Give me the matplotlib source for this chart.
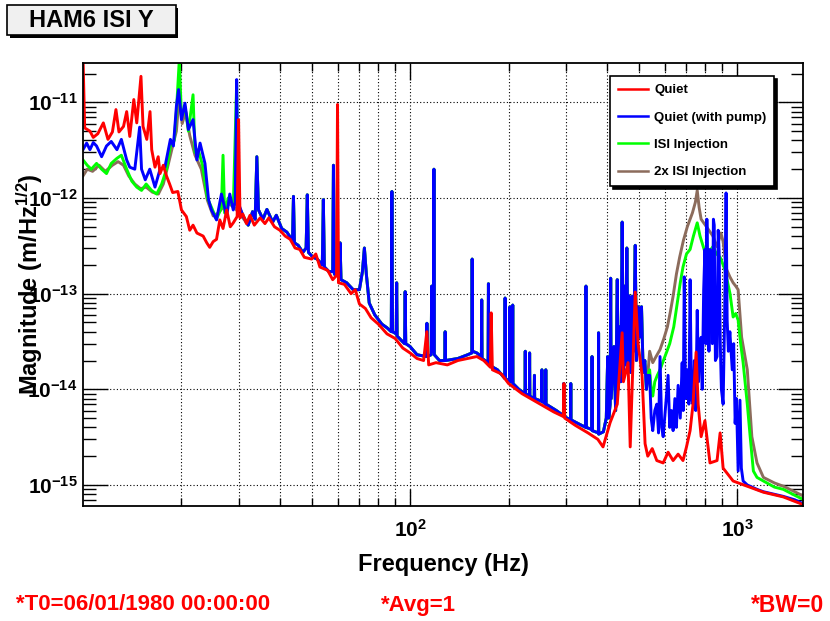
import numpy as np
import matplotlib
matplotlib.use("Agg")
import matplotlib.pyplot as plt
from matplotlib.patches import Rectangle
from matplotlib.lines import Line2D
from matplotlib.ticker import FixedLocator, LogLocator, LogFormatterMathtext, NullFormatter

# --- fonts (ROOT-like bold helvetica) ---
plt.rcParams['font.family'] = ['Liberation Sans', 'DejaVu Sans']
plt.rcParams['font.weight'] = 'bold'
plt.rcParams['mathtext.fontset'] = 'custom'
plt.rcParams['mathtext.rm'] = 'Liberation Sans:bold'
plt.rcParams['mathtext.bf'] = 'Liberation Sans:bold'
plt.rcParams['mathtext.it'] = 'Liberation Sans:bold'
plt.rcParams['mathtext.default'] = 'bf'

# --- data: (frequency Hz, magnitude m/rtHz) ---
# Quiet (red)
quiet_low = [(10.0, 3.0e-11), (10.12, 5.4e-12), (10.5, 5.0e-12), (10.75, 4.3e-12), (11.1, 4.7e-12),
             (11.54, 6.1e-12), (11.92, 4.1e-12), (12.3, 4.9e-12), (12.61, 8.4e-12), (12.88, 4.9e-12),
             (13.3, 5.6e-12), (13.6, 8.0e-12), (13.9, 4.4e-12), (14.3, 1.07e-11), (14.6, 6.1e-12),
             (15.04, 1.87e-11), (15.26, 5.6e-12), (15.67, 4.1e-12), (16.03, 8.0e-12), (16.22, 3.2e-12),
             (16.6, 2.1e-12), (16.98, 2.7e-12), (17.2, 1.8e-12), (17.6, 2.2e-12), (18.0, 1.7e-12),
             (18.4, 1.4e-12), (18.8, 1.14e-12), (19.5, 1.17e-12), (20.0, 7.5e-13), (20.7, 6.4e-13),
             (21.2, 4.6e-13), (21.7, 5.2e-13), (22.3, 4.3e-13), (23.3, 4.0e-13), (23.9, 3.4e-13),
             (24.4, 3.05e-13), (25.0, 3.5e-13), (25.6, 3.7e-13), (26.2, 5.9e-13), (26.8, 4.8e-13),
             (27.5, 7.5e-13), (28.2, 5.0e-13), (28.8, 5.5e-13), (29.6, 6.4e-13), (29.9, 6.6e-12),
             (30.2, 6.2e-13), (30.8, 6.8e-13)]
quiet_mid = [(31.6, 5.4e-13), (32.4, 6.6e-13), (33.4, 5.2e-13), (34.8, 6.2e-13), (36.0, 5.4e-13),
             (37.0, 6.2e-13), (38.5, 5.0e-13), (40.0, 4.6e-13), (41.5, 4.0e-13), (43.0, 3.7e-13),
             (44.5, 3.0e-13), (46.0, 2.9e-13), (47.5, 2.4e-13), (50.0, 2.3e-13), (51.5, 2.6e-13),
             (53.0, 1.9e-13), (56.0, 1.75e-13), (58.0, 1.4e-13), (59.6, 1.55e-13), (60.0, 9.5e-12),
             (60.4, 1.3e-13), (63.0, 1.25e-13), (66.0, 1.0e-13), (68.0, 1.1e-13), (70.0, 7.8e-14),
             (73.0, 7.0e-14), (76.0, 5.6e-14), (80.0, 4.8e-14), (85.0, 3.8e-14), (90.0, 3.4e-14),
             (95.0, 2.7e-14), (100.0, 2.4e-14), (105.0, 2.1e-14), (110.0, 2.0e-14), (112.5, 4.0e-14),
             (114.0, 1.8e-14), (120.0, 1.9e-14), (130.0, 1.8e-14), (140.0, 2.0e-14), (150.0, 2.1e-14),
             (160.0, 2.2e-14), (168.0, 2.0e-14), (176.0, 1.7e-14), (177.0, 6.3e-14), (178.5, 1.6e-14),
             (190.0, 1.45e-14), (200.0, 1.15e-14), (220.0, 9.0e-15), (250.0, 7.0e-15), (275.0, 5.8e-15),
             (294.0, 5.2e-15), (295.5, 1.15e-14), (297.0, 5.0e-15), (320.0, 4.2e-15), (350.0, 3.5e-15),
             (375.0, 3.0e-15), (389.0, 2.5e-15)]
quiet_high = [(409, 4.5e-15), (430, 7.0e-15), (445, 3.9e-14), (449, 1.2e-14), (464, 1.9e-14),
              (471, 2.5e-15), (488, 1.04e-13), (498, 3.0e-14), (512, 1.4e-14), (523, 2.7e-15),
              (533, 2.0e-15), (550, 2.4e-15), (568, 1.8e-15), (594, 1.7e-15), (615, 2.2e-15),
              (637, 1.8e-15), (660, 2.1e-15), (683, 1.8e-15), (700, 2.5e-15), (718, 3.7e-15),
              (733, 7.0e-15), (749, 2.45e-14), (760, 7.0e-15), (776, 3.2e-15), (797, 4.7e-15),
              (826, 1.7e-15), (868, 1.8e-15), (887, 3.5e-15), (906, 1.5e-15), (972, 1.1e-15),
              (1074, 9.7e-16), (1203, 8.4e-16), (1384, 7.5e-16), (1560, 6.4e-16), (1600, 6.0e-16)]

# Quiet (with pump) (blue), low-frequency part
pump_low = [(10.0, 3.2e-12), (10.26, 3.75e-12), (10.5, 3.2e-12), (10.75, 3.8e-12), (11.0, 3.5e-12),
            (11.4, 2.7e-12), (11.8, 3.5e-12), (12.2, 3.9e-12), (12.7, 3.2e-12), (13.1, 4.1e-12),
            (13.6, 2.5e-12), (13.9, 2.1e-12), (14.4, 2.0e-12), (14.9, 5.5e-12), (15.1, 2.0e-12),
            (15.5, 1.55e-12), (16.0, 2.0e-12), (16.6, 1.3e-12), (17.2, 2.0e-12), (17.8, 2.1e-12),
            (18.5, 4.1e-12), (18.9, 3.5e-12), (19.3, 9.1e-12), (19.6, 1.36e-11), (20.0, 6.6e-12),
            (20.5, 9.8e-12), (21.0, 5.2e-12), (21.7, 6.6e-12), (22.3, 2.5e-12), (22.8, 3.75e-12),
            (23.6, 2.3e-12), (24.2, 9.6e-13), (24.7, 7.5e-13), (25.6, 5.9e-13), (26.5, 1.1e-12),
            (27.5, 6.4e-13), (28.1, 1.1e-12), (28.8, 7.5e-13), (29.2, 9.0e-13), (29.5, 1.73e-11),
            (29.8, 9.0e-13), (30.9, 6.4e-13)]

# 32-535 Hz: pump, ISI injection and 2x injection lie on top of each other
shared_mid = [(32.0, 5.2e-13), (33.0, 7.2e-13), (33.6, 6.0e-13), (34.0, 2.7e-12), (34.4, 7.5e-13),
              (35.5, 6.0e-13), (36.5, 7.6e-13), (38.0, 5.6e-13), (39.0, 6.6e-13), (40.5, 4.8e-13),
              (42.0, 4.4e-13), (43.7, 3.6e-13), (44.0, 1.04e-12), (44.3, 3.4e-13), (45.5, 3.2e-13),
              (47.0, 2.7e-13), (48.1, 3.0e-13), (48.5, 1.08e-12), (48.9, 2.7e-13), (50.5, 2.4e-13),
              (52.0, 2.3e-13), (53.9, 2.0e-13), (54.3, 9.6e-13), (54.7, 1.9e-13), (56.5, 1.7e-13),
              (58.0, 1.7e-13), (58.3, 2.2e-12), (58.7, 1.6e-13), (60.8, 1.5e-13), (61.1, 3.4e-13),
              (61.5, 1.4e-13), (64.0, 1.3e-13), (67.0, 1.1e-13), (70.0, 1.1e-13), (71.5, 1.7e-13),
              (72.5, 3.0e-13), (73.5, 1.6e-13), (75.0, 8.0e-14), (78.0, 6.0e-14), (82.0, 4.8e-14),
              (85.0, 4.4e-14), (87.6, 4.0e-14), (88.0, 1.17e-12), (88.4, 4.0e-14), (90.7, 3.8e-14),
              (91.0, 1.3e-13), (91.3, 3.6e-14), (96.2, 3.0e-14), (96.6, 1.05e-13), (97.0, 3.0e-14),
              (100.0, 2.8e-14), (105.0, 2.3e-14), (112.2, 2.2e-14), (112.6, 4.9e-14), (113.0, 2.2e-14),
              (116.0, 2.3e-14), (116.4, 1.2e-13), (116.8, 2.5e-14), (118.0, 2.5e-14), (118.3, 2.0e-12),
              (118.6, 2.3e-14), (123.0, 2.0e-14), (127.6, 2.0e-14), (128.0, 4.0e-14), (128.4, 2.0e-14),
              (140.0, 2.1e-14), (150.0, 2.3e-14), (154.4, 2.4e-14), (154.8, 2.3e-13), (155.2, 2.5e-14),
              (160.0, 2.4e-14), (165.2, 2.2e-14), (165.6, 8.6e-14), (166.0, 2.1e-14), (173.2, 1.9e-14),
              (173.6, 1.27e-13), (174.0, 1.8e-14), (185.0, 1.6e-14), (194.8, 1.3e-14), (195.2, 9.0e-14),
              (195.6, 1.3e-14), (201.6, 1.2e-14), (202.0, 7.3e-14), (202.4, 1.2e-14), (205.6, 1.2e-14),
              (206.0, 7.6e-14), (206.4, 1.15e-14), (215.0, 1.0e-14), (224.6, 9.0e-15), (225.0, 2.5e-14),
              (225.4, 9.0e-15), (231.6, 8.5e-15), (232.0, 2.4e-14), (232.4, 8.5e-15), (239.6, 8.0e-15),
              (240.0, 1.4e-14), (240.4, 8.0e-15), (252.6, 7.5e-15), (253.0, 1.6e-14), (253.4, 7.5e-15),
              (259.6, 7.0e-15), (260.0, 1.6e-14), (260.4, 7.0e-15), (280.0, 6.0e-15), (294.6, 5.3e-15),
              (295.0, 1.15e-14), (295.4, 5.2e-15), (309.6, 4.8e-15), (310.0, 1.15e-14), (310.4, 4.8e-15),
              (330.0, 4.3e-15), (344.6, 4.0e-15), (345.0, 1.2e-13), (345.4, 4.0e-15), (359.6, 3.8e-15),
              (360.0, 2.2e-14), (360.4, 3.7e-15), (376.6, 3.5e-15), (377.0, 3.9e-14), (377.4, 3.4e-15),
              (390.0, 3.6e-15), (398.0, 5.0e-15), (402.0, 2.2e-14), (405.0, 5.0e-15), (409.0, 7.0e-15),
              (410.5, 1.45e-13), (412.0, 8.0e-15), (420.0, 2.8e-14), (425.0, 6.0e-15), (430.0, 1.4e-13),
              (433.0, 1.0e-14), (437.0, 4.5e-14), (441.0, 1.2e-14), (445.0, 5.6e-13), (449.0, 1.5e-14),
              (452.0, 1.2e-13), (456.0, 1.8e-14), (460.0, 3.0e-13), (464.0, 2.0e-14), (467.0, 9.5e-14),
              (472.0, 1.5e-14), (478.0, 9.4e-14), (482.0, 2.5e-14), (488.0, 3.2e-13), (492.0, 2.0e-14),
              (498.0, 7.3e-14), (503.0, 3.5e-14), (510.0, 7.3e-14), (516.0, 1.5e-14), (522.0, 2.0e-14),
              (528.0, 1.0e-14), (533.0, 1.4e-14)]

pump_high = [(540, 1.4e-14), (546, 5.0e-15), (552, 3.7e-15), (560, 6.0e-15), (568, 7.0e-15),
             (575, 3.5e-15), (581, 2.2e-14), (588, 4.0e-15), (594, 3.2e-15), (603, 6.0e-15),
             (615, 1.4e-14), (622, 4.0e-15), (630, 6.0e-15), (637, 3.7e-15), (645, 8.0e-15),
             (652, 4.0e-15), (660, 1.1e-14), (670, 5.0e-15), (679, 1.9e-14), (684, 6.0e-15),
             (689, 1.5e-13), (695, 8.0e-15), (704, 1.6e-14), (712, 7.0e-15), (718, 1.4e-13),
             (725, 8.0e-15), (733, 7.0e-15), (740, 2.0e-14), (747, 6.0e-15), (755, 6.7e-14),
             (762, 1.2e-14), (770, 3.0e-14), (776, 3.5e-14), (782, 1.0e-14), (790, 1.1e-13),
             (797, 2.9e-13), (803, 3.0e-14), (808, 6.0e-13), (815, 9.4e-14), (820, 2.5e-14),
             (826, 2.9e-13), (833, 1.5e-13), (840, 3.0e-14), (846, 6.0e-13), (851, 5.2e-13),
             (858, 2.0e-14), (868, 2.2e-14), (875, 4.6e-13), (881, 2.7e-13), (888, 3.0e-14),
             (895, 1.0e-14), (906, 7.0e-15), (915, 5.0e-14), (925, 1.13e-12), (932, 5.3e-14),
             (940, 2.5e-14), (950, 4.0e-14), (966, 1.6e-14), (976, 3.0e-14), (986, 4.4e-15),
             (995, 8.0e-15), (1007, 1.4e-15), (1020, 7.7e-15), (1030, 1.5e-15), (1043, 1.1e-15),
             (1074, 1.0e-15), (1150, 9.0e-16), (1203, 8.5e-16), (1300, 8.0e-16), (1384, 7.6e-16),
             (1500, 7.0e-16), (1600, 6.3e-16)]

# ISI Injection (green)
inj_low = [(10.0, 2.5e-12), (10.3, 2.2e-12), (10.6, 2.0e-12), (11.0, 2.3e-12), (11.4, 2.0e-12),
           (11.8, 1.8e-12), (12.2, 2.3e-12), (12.7, 2.6e-12), (13.1, 2.8e-12), (13.6, 2.0e-12),
           (14.1, 1.5e-12), (14.6, 1.3e-12), (15.1, 1.2e-12), (15.6, 1.4e-12), (16.2, 1.2e-12),
           (16.8, 1.1e-12), (17.4, 1.4e-12), (18.0, 2.0e-12), (18.5, 3.5e-12), (19.0, 4.0e-12),
           (19.3, 8.0e-12), (19.7, 2.8e-11), (20.0, 7.0e-12), (20.5, 9.0e-12), (21.0, 5.0e-12),
           (21.7, 1.2e-11), (22.0, 3.0e-12), (22.5, 3.2e-12), (23.2, 2.2e-12), (24.0, 1.0e-12),
           (24.7, 8.0e-13), (25.6, 6.0e-13), (26.5, 8.0e-13), (26.8, 2.8e-12), (27.1, 7.0e-13),
           (27.8, 1.0e-12), (28.8, 8.0e-13), (29.5, 1.6e-11), (29.8, 8.5e-13), (30.9, 6.5e-13)]
inj_high = [(540, 1.6e-14), (546, 1.0e-14), (552, 8.5e-15), (560, 1.2e-14), (570, 1.4e-14),
            (581, 1.6e-14), (595, 2.0e-14), (610, 2.5e-14), (622, 3.0e-14), (640, 4.5e-14),
            (656, 8.0e-14), (670, 1.3e-13), (683, 1.9e-13), (700, 2.6e-13), (718, 2.9e-13),
            (735, 4.0e-13), (755, 5.5e-13), (770, 4.0e-13), (790, 3.0e-13), (806, 2.4e-13),
            (825, 2.8e-13), (843, 3.1e-13), (865, 2.6e-13), (887, 2.4e-13), (917, 1.8e-13),
            (951, 1.0e-13), (972, 5.7e-14), (990, 6.2e-14), (1007, 5.3e-14), (1025, 3.0e-14),
            (1043, 1.9e-14), (1074, 7.0e-15), (1096, 3.2e-15), (1121, 1.4e-15), (1150, 1.2e-15),
            (1203, 1.1e-15), (1300, 9.5e-16), (1384, 9.0e-16), (1500, 7.8e-16), (1600, 7.0e-16)]

# 2x ISI Injection (brown)
inj2_low = [(10.0, 1.7e-12), (10.3, 2.0e-12), (10.7, 1.9e-12), (11.2, 2.2e-12), (11.7, 1.9e-12),
            (12.3, 2.2e-12), (12.8, 2.4e-12), (13.3, 2.2e-12), (13.8, 1.7e-12), (14.4, 1.4e-12),
            (15.0, 1.25e-12), (15.6, 1.3e-12), (16.3, 1.15e-12), (17.0, 1.1e-12), (17.6, 1.4e-12),
            (18.2, 2.2e-12), (18.8, 3.5e-12), (19.3, 5.0e-12), (19.7, 1.2e-11), (20.1, 6.0e-12),
            (20.6, 8.0e-12), (21.2, 4.5e-12), (22.0, 2.8e-12), (23.0, 2.0e-12), (24.0, 9.5e-13),
            (25.0, 6.5e-13), (26.0, 7.0e-13), (27.5, 9.0e-13), (29.0, 8.0e-13), (30.5, 6.5e-13)]
inj2_high = [(540, 2.5e-14), (552, 1.9e-14), (565, 2.2e-14), (581, 2.6e-14), (597, 3.4e-14),
             (612, 4.5e-14), (625, 6.5e-14), (637, 9.4e-14), (652, 1.6e-13), (667, 2.4e-13),
             (685, 3.6e-13), (704, 5.0e-13), (730, 7.0e-13), (745, 9.0e-13), (755, 1.2e-12),
             (765, 8.0e-13), (776, 6.0e-13), (806, 5.0e-13), (843, 4.0e-13), (868, 3.1e-13),
             (892, 4.3e-13), (906, 3.5e-13), (928, 1.8e-13), (950, 1.5e-13), (972, 1.3e-13),
             (990, 1.2e-13), (1007, 1.1e-13), (1032, 3.5e-14), (1074, 1.6e-14), (1109, 3.2e-15),
             (1150, 1.7e-15), (1203, 1.2e-15), (1300, 1.05e-15), (1384, 9.7e-16), (1500, 8.5e-16),
             (1600, 7.6e-16)]

labels = ["Quiet", "Quiet (with pump)", "ISI Injection", "2x ISI Injection"]
colors = ["#ff0000", "#0000ff", "#00ff00", "#8c6c5c"]

series = [
    quiet_low + quiet_mid + quiet_high,
    pump_low + shared_mid + pump_high,
    inj_low + shared_mid + inj_high,
    inj2_low + shared_mid + inj2_high,
]

# --- figure ---
fig = plt.figure(figsize=(8.3, 6.21), dpi=100)
ax = fig.add_axes([0.1, 0.1852, 0.8675, 0.7134])

# draw brown first, red last (red on top)
for i in [3, 2, 1, 0]:
    f, m = zip(*series[i])
    ax.plot(f, m, color=colors[i], lw=2.1, zorder=3 + (3 - i))

ax.set_xscale('log')
ax.set_yscale('log')
ax.set_xlim(10, 1590)
ax.set_ylim(6.03e-16, 2.58e-11)

ax.xaxis.set_major_locator(FixedLocator([100, 1000]))
ax.xaxis.set_minor_locator(LogLocator(base=10, subs=np.arange(2, 10), numticks=20))
ax.xaxis.set_major_formatter(LogFormatterMathtext())
ax.xaxis.set_minor_formatter(NullFormatter())
ax.yaxis.set_major_locator(LogLocator(base=10, numticks=20))
ax.yaxis.set_minor_locator(LogLocator(base=10, subs=np.arange(2, 10), numticks=20))
ax.yaxis.set_major_formatter(LogFormatterMathtext())
ax.yaxis.set_minor_formatter(NullFormatter())

ax.tick_params(which='both', direction='in', top=True, right=True, width=1.0, colors='black')
ax.tick_params(axis='x', which='major', length=12, pad=9, labelsize=15)
ax.tick_params(axis='x', which='minor', length=6)
ax.tick_params(axis='y', which='major', length=18, pad=4, labelsize=15)
ax.tick_params(axis='y', which='minor', length=9)

grid_style = dict(color='black', linestyle=(0, (1, 2)), linewidth=0.8)
ax.grid(True, which='both', axis='x', **grid_style)
ax.grid(True, which='major', axis='y', **grid_style)
ax.set_axisbelow(False)
for sp in ax.spines.values():
    sp.set_linewidth(1.3)
    sp.set_zorder(10)

ax.set_xlabel('Frequency (Hz)', size=17, weight='bold')
ax.xaxis.set_label_coords(0.5, -0.131)
ax.xaxis.label.set_va('center')
ax.set_ylabel(r'Magnitude (m/Hz$^{1/2}$)', size=17, weight='bold')
ax.yaxis.set_label_coords(-0.0736, 0.5)
ax.yaxis.label.set_va('center')

# legend with black drop shadow
handles = [Line2D([], [], color=c, lw=1.8) for c in colors]
leg = ax.legend(handles, labels, loc='upper left', bbox_to_anchor=(610 / 830, 1 - 76 / 621),
                bbox_transform=fig.transFigure, frameon=True, fancybox=False, framealpha=1,
                edgecolor='black', shadow={'color': 'black', 'alpha': 1}, borderaxespad=0,
                prop={'weight': 'bold', 'size': 9.5}, handlelength=2.3, handletextpad=0.45,
                labelspacing=1.15, borderpad=0.6)
leg.get_frame().set_linewidth(1.2)
leg.set_zorder(20)

# title box top-left
W, H = 830, 621
fig.patches.append(Rectangle((10 / W, 1 - 38 / H), 168 / W, 30 / H, transform=fig.transFigure,
                             facecolor='black', edgecolor='none'))
fig.patches.append(Rectangle((7 / W, 1 - 35 / H), 169 / W, 30 / H, transform=fig.transFigure,
                             facecolor='#f0f0f0', edgecolor='black', linewidth=1.2))
fig.text(91 / W, 1 - 20.5 / H, 'HAM6 ISI Y', ha='center', va='center', size=17, weight='bold')

# measurement info at the bottom
info_y = 1 - 605 / H
fig.text(16 / W, info_y, '*T0=06/01/1980 00:00:00', color='red', size=16, weight='bold', va='center')
fig.text(381 / W, info_y, '*Avg=1', color='red', size=16, weight='bold', va='center')
fig.text(751 / W, info_y, '*BW=0', color='red', size=16.5, weight='bold', va='center')

fig.savefig('out.png', dpi=100)
